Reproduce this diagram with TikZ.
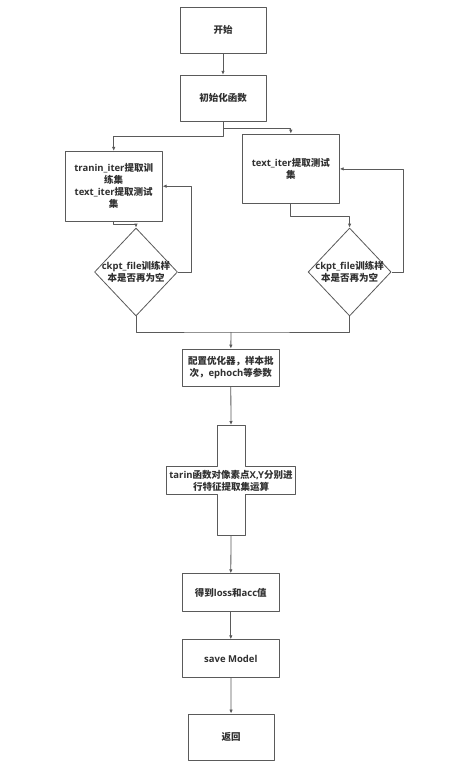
\documentclass[tikz,border=0pt]{standalone}
\usepackage{fontspec}
\setmainfont{Open Sans}
\newfontfamily\cjk{Noto Sans CJK SC}
\usetikzlibrary{shapes.geometric,arrows.meta}
\tikzset{
  box/.style={draw=linegray, line width=.8pt, minimum width=86pt, minimum height=46pt, align=center, inner sep=1pt, text=textgray},
  wbox/.style={box, minimum width=97pt, minimum height=38pt},
  dia/.style={draw=linegray, line width=.8pt, diamond, minimum width=83pt, minimum height=88pt, inner sep=0pt},
  lbl/.style={align=center, text=textgray, inner sep=0pt},
  arr/.style={draw=linegray, line width=.8pt, -{Latex[length=4pt,width=3.5pt]}},
  ln/.style={draw=linegray, line width=.8pt}
}
\definecolor{linegray}{HTML}{5A5A5A}
\definecolor{textgray}{HTML}{303030}
\begin{document}
\begin{tikzpicture}[x=1pt, y=-1pt, font=\fontsize{9.5}{12}\selectfont\bfseries, line join=round]
			\useasboundingbox[fill=white] (0,0) rectangle (451,768);
			\node[box] (start) at (223,30.3) {\cjk 开始};
			\node[box] (init) at (223,98.2) {\cjk 初始化函数};
			\node[box, minimum width=97pt, minimum height=69.7pt] (trn) at (113.7,186.2) {tranin\_iter{\cjk 提取训}\\{\cjk 练集}\\text\_iter{\cjk 提取测试}\\{\cjk 集}};
			\node[box, minimum width=97pt, minimum height=69.7pt] (tst) at (290.8,168.9) {text\_iter{\cjk 提取测试}\\{\cjk 集}};
			\node[dia, label={[lbl]center:ckpt\_file{\cjk 训练样}\\{\cjk 本是否再为空}}] (d1) at (136,272) {};
			\node[dia, label={[lbl]center:ckpt\_file{\cjk 训练样}\\{\cjk 本是否再为空}}] (d2) at (349.6,272) {};
			\coordinate (join) at (231,332);
			\node[wbox, minimum height=37.3pt] (cfg) at (230.8,367.7) {{\cjk 配置优化器，样本批}\\{\cjk 次，}ephoch{\cjk 等参数}};
			% cross shaped box
			\draw[ln, fill=white] (217.3,425)--(245,425)--(245,466)--(295.7,466)--(295.7,494)--(245,494)--(245,535)
				--(217.3,535)--(217.3,494)--(166.3,494)--(166.3,466)--(217.3,466)--cycle;
			\node[lbl] (calc) at (231,480.5) {tarin{\cjk 函数对像素点}X,Y{\cjk 分别进}\\{\cjk 行特征提取集运算}};
			\coordinate (calcT) at (231,425);
			\coordinate (calcB) at (231,535);
			\node[wbox] (loss) at (230.8,592.7) {{\cjk 得到}loss{\cjk 和}acc{\cjk 值}};
			\node[wbox] (save) at (230.8,658.7) {save Model};
			\node[box, minimum height=46.7pt] (ret) at (231.2,737.3) {\cjk 返回};
			% connectors
			\draw[arr] (start) -- (init);
			\draw[arr] (init.south) -- ++(0,6.5) -| (tst.north);
			\draw[arr] (init.south) -- ++(0,15) -| (trn.north);
			\draw[arr] (trn.south) -- ++(0,3) -| (d1.north);
			\draw[arr] (d1.east) -- ++(13,0) |- (trn.east);
			\draw[arr] (tst.south) -- ++(0,12) -| (d2.north);
			\draw[arr] (d2.east) -- ++(12.3,0) |- (tst.east);
			\draw[ln] (d1.south) |- (join) -| (d2.south);
			\draw[arr] (join) -- (cfg.north);
			\draw[arr] (cfg.south) -- (calcT);
			\draw[arr] (calcB) -- (loss.north);
			\draw[arr] (loss) -- (save);
			\draw[arr] (save) -- (ret);
	\end{tikzpicture}
\end{document}
